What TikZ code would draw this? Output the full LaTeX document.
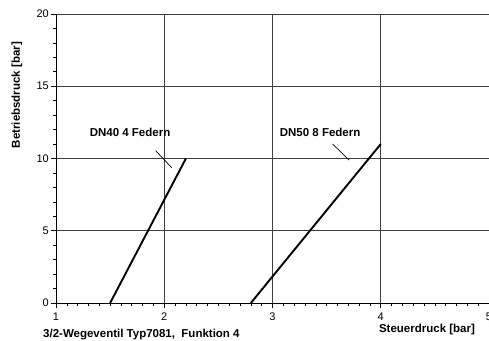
\documentclass[tikz,border=0pt]{standalone}
\usepackage{fontspec}
\setmainfont{Liberation Sans}
\begin{document}
\begin{tikzpicture}[x=1pt,y=1pt,
  gridline/.style={draw=black!75,line width=0.8pt},
  axisline/.style={draw=black,line width=0.9pt},
  tickline/.style={draw=black,line width=0.6pt},
  curve/.style={draw=black,line width=1.9pt},
  leader/.style={draw=black,line width=0.7pt},
  ticklab/.style={font=\fontsize{11}{13}\selectfont,inner sep=0pt},
  lab/.style={font=\fontsize{11.5}{13}\selectfont\bfseries,inner sep=0pt}]
\useasboundingbox (0,0) rectangle (489,340);
\begin{scope}[x=108.25pt,y=14.45pt,xshift=-52.25pt,yshift=37pt]
  % grid
  \foreach \y in {5,10,15,20} \draw[gridline] (1,\y) -- (5,\y);
  \foreach \x in {2,3,4} \draw[gridline] (\x,0) -- (\x,20);
  % ticks
  \foreach \y in {0,...,20} \draw[tickline] (1,\y) -- ++(-3pt,0);
  \foreach \y in {0,5,...,20} \draw[tickline] (1,\y) -- ++(-5pt,0);
  \foreach \i in {0,...,40} \draw[tickline] ({1+\i/10},0) -- ++(0,-3pt);
  \foreach \x in {1,...,5} \draw[tickline] (\x,0) -- ++(0,-5pt);
  % axes
  \draw[axisline] (1,20) -- (1,0) -- (5,0);
  % tick labels
  \foreach \y in {0,5,10,15,20}
    \node[ticklab,anchor=east] (yl\y) at ([xshift=-7pt]1,\y) {\y};
  \foreach \x in {1,...,5}
    \node[ticklab] (xl\x) at ([yshift=-13.5pt]\x,0) {\x};
  % curves
  \coordinate (a0) at (1.5,0);
  \coordinate (a1) at (2.2,10);
  \coordinate (b0) at (2.8,0);
  \coordinate (b1) at (4,11);
  \draw[curve] (a0) -- (a1);
  \draw[curve] (b0) -- (b1);
  % labels
  \node[lab] (dn40) at (1.684,11.83) {DN40 4 Federn};
  \node[lab] (dn50) at (3.44,11.83) {DN50 8 Federn};
  \coordinate (la0) at (1.921,10.54);
  \coordinate (la1) at (2.069,9.36);
  \coordinate (lb0) at (3.556,11.0);
  \coordinate (lb1) at (3.709,9.88);
  \draw[leader] (la0) -- (la1);
  \draw[leader] (lb0) -- (lb1);
\end{scope}
\node[lab,rotate=90] (ylab) at (17,245) {Betriebsdruck [bar]};
\node[lab] (xlab) at (427,10) {Steuerdruck [bar]};
\node[lab,anchor=west] (title) at (43,5) {3/2-Wegeventil Typ7081,\ \ Funktion 4};
\end{tikzpicture}
\end{document}
